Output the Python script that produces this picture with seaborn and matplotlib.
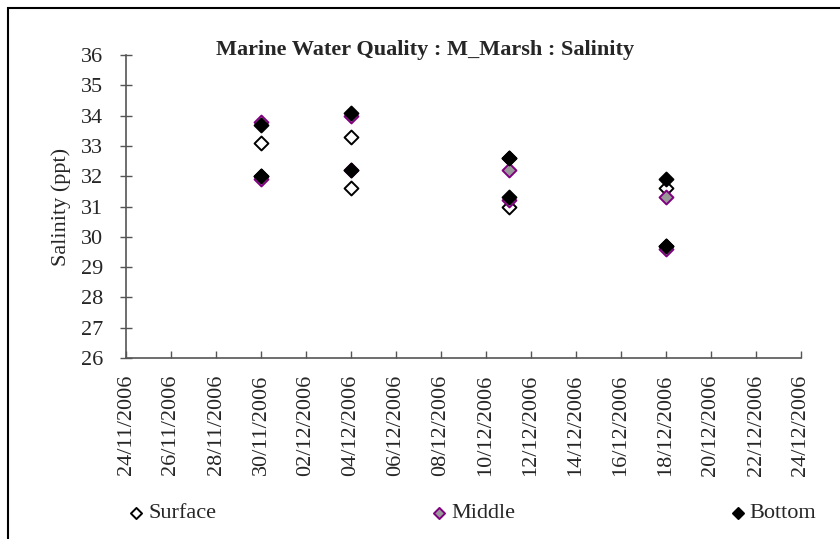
import pandas as pd
import matplotlib
matplotlib.use("Agg")
from matplotlib import pyplot as plt
import matplotlib.dates as mdates
from matplotlib.patches import Rectangle
import seaborn as sns

# sampling dates, two depths-readings per date
dates = ["2006-11-30", "2006-11-30", "2006-12-04", "2006-12-04",
         "2006-12-11", "2006-12-11", "2006-12-18", "2006-12-18"]
surface = [33.1, 32.0, 33.3, 31.6, 32.6, 31.0, 31.6, 29.7]
middle = [33.8, 31.9, 34.0, 32.2, 32.2, 31.2, 31.3, 29.6]
bottom = [33.7, 32.0, 34.1, 32.2, 32.6, 31.3, 31.9, 29.7]

y_ticks = list(range(26, 37))

def salinity_plot():
  sns.set_style("white")
  plt.rcParams['font.family'] = ['Liberation Serif', 'DejaVu Serif']

  fig = plt.figure(figsize=(8.4, 5.39), dpi=100)
  ax = fig.add_axes([126 / 840, 1 - 358 / 539, 675 / 840, 303 / 539])

  x = pd.to_datetime(dates)
  sns.scatterplot(x=x, y=surface, ax=ax, marker="D", s=50, color="white",
                  edgecolor="black", linewidth=1.4, label="Surface", zorder=3)
  sns.scatterplot(x=x, y=middle, ax=ax, marker="D", s=50, color="#999999",
                  edgecolor="#800080", linewidth=1.4, label="Middle", zorder=4)
  sns.scatterplot(x=x, y=bottom, ax=ax, marker="D", s=50, color="black",
                  edgecolor="black", linewidth=1.4, label="Bottom", zorder=5)

  ax.set_xlim(pd.Timestamp("2006-11-24"), pd.Timestamp("2006-12-24"))
  ax.set_ylim(26, 36)
  ax.set_yticks(y_ticks)
  ax.set_xticks(pd.date_range("2006-11-24", "2006-12-24", freq="2D"))
  ax.xaxis.set_major_formatter(mdates.DateFormatter("%d/%m/%Y"))
  plt.setp(ax.get_xticklabels(), rotation=90)

  for side in ["top", "right"]:
    ax.spines[side].set_visible(False)
  for side in ["left", "bottom"]:
    ax.spines[side].set_color("#555555")
    ax.spines[side].set_linewidth(1.2)
  ax.tick_params(axis="y", direction="inout", length=8.5, width=1, color="#555555",
                 labelsize=16, pad=12, left=True)
  ax.tick_params(axis="x", direction="in", length=5, width=1, color="#555555",
                 labelsize=16, pad=12, bottom=True)

  ax.set_xlabel("")
  ax.set_ylabel("Salinity (ppt)", fontsize=16)
  ax.yaxis.set_label_coords(-0.082, 0.5)

  fig.text(425 / 840, 1 - 50 / 539, "Marine Water Quality : M_Marsh : Salinity",
           ha="center", va="center", fontsize=16, fontweight="bold")

  handles, labels = ax.get_legend_handles_labels()
  ax.get_legend().remove()
  fig.legend(handles, labels, ncol=3, mode="expand", frameon=False,
             bbox_to_anchor=(113 / 840, 0.0, 719 / 840, 1 - 493 / 539),
             loc="lower left", fontsize=16, markerscale=0.8,
             handletextpad=0.2, handlelength=0.7, borderaxespad=0.3)

  fig.patches.append(Rectangle((8 / 840, -0.1), 1.2, 1.1 - 8 / 539,
                               transform=fig.transFigure, fill=False,
                               edgecolor="black", linewidth=1.5))

  fig.savefig("out.png", dpi=100)

if __name__ == "__main__":
  salinity_plot()
